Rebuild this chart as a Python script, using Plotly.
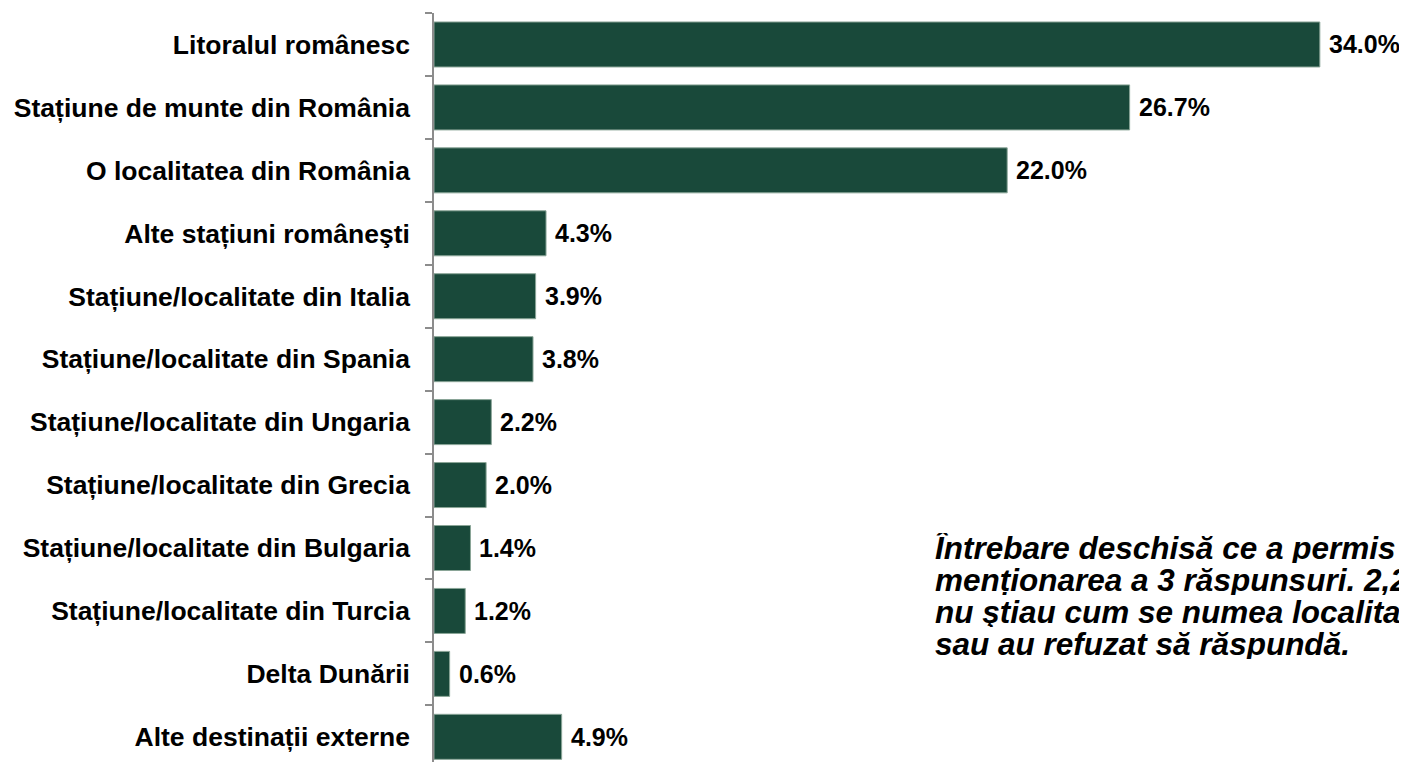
import plotly.graph_objects as go

categories = [
    "Litoralul românesc",
    "Stațiune de munte din România",
    "O localitatea din România",
    "Alte stațiuni româneşti",
    "Stațiune/localitate din Italia",
    "Stațiune/localitate din Spania",
    "Stațiune/localitate din Ungaria",
    "Stațiune/localitate din Grecia",
    "Stațiune/localitate din Bulgaria",
    "Stațiune/localitate din Turcia",
    "Delta Dunării",
    "Alte destinații externe",
]
values = [34.0, 26.7, 22.0, 4.3, 3.9, 3.8, 2.2, 2.0, 1.4, 1.2, 0.6, 4.9]

note_lines = [
    "Întrebare deschisă ce a permis",
    "menționarea a 3 răspunsuri. 2,2%",
    "nu ştiau cum se numea localitatea",
    "sau au refuzat să răspundă.",
]

font = "Liberation Sans, Arial, sans-serif"
# the page body adds an 8px margin, so the figure is 8px smaller than the window
W, H = 1399, 754
L, R, T, B = 426, 9, 5, 0

fig = go.Figure()
fig.add_bar(
    x=values,
    y=categories,
    orientation="h",
    marker=dict(color="#19493a", line=dict(color="#8aa597", width=1)),
    hoverinfo="skip",
)

# value labels just right of each bar
for c, v in zip(categories, values):
    fig.add_annotation(
        x=v, y=c, text=f"<b>{v:.1f}%</b>", showarrow=False,
        xanchor="left", yanchor="middle", xshift=7,
        font=dict(family=font, size=25, color="black"),
    )

# side note, one annotation per line to keep the tight line spacing
for i, line in enumerate(note_lines):
    py = 540 + 32 * i
    fig.add_annotation(
        x=(925 - L) / (W - L - R), y=1 - (py - T) / (H - T - B),
        xref="paper", yref="paper", text=f"<b><i>{line}</i></b>",
        showarrow=False, xanchor="left", yanchor="middle", align="left",
        height=30, valign="middle",
        font=dict(family=font, size=31.5, color="black"),
    )

fig.update_layout(
    width=W, height=H,
    margin=dict(l=L, r=R, t=T, b=B, autoexpand=False),
    paper_bgcolor="white", plot_bgcolor="white",
    bargap=0.285,
    showlegend=False,
    xaxis=dict(range=[0, 37], showticklabels=False, showgrid=False,
               zeroline=False, showline=False, ticks="", automargin=False),
    yaxis=dict(type="category", categoryorder="array", categoryarray=categories,
               range=[11.4, -0.5], showline=True, linecolor="#8c8c8c", linewidth=1.5,
               ticks="outside", tickson="boundaries", ticklen=7, tickcolor="#8c8c8c",
               tickwidth=1.5, showgrid=False, ticklabelstandoff=17, automargin=False,
               tickfont=dict(family=font, size=26.5, color="black"),
               tickprefix="<b>", ticksuffix="</b>"),
)

fig.write_html("out.html")
